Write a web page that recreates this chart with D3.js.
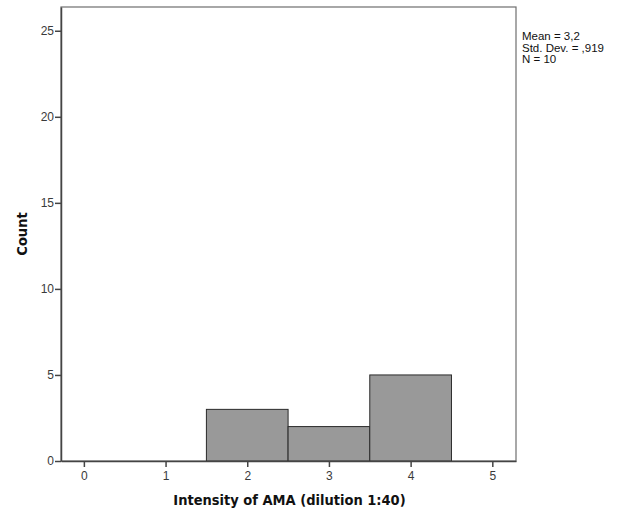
<!DOCTYPE html>
<html>
<head>
<meta charset="utf-8">
<script src="https://cdn.jsdelivr.net/npm/d3@7"></script>
<style>
  body { margin: 0; background: #fff; }
  svg { display: block; font-family: "Liberation Sans", Arial, sans-serif; }
</style>
</head>
<body>
<svg id="chart" width="617" height="515"></svg>
<script>
// histogram bins (bin centre) and counts
var binCenters = [2, 3, 4];
var counts = [3, 2, 5];
var xTicks = [0, 1, 2, 3, 4, 5];
var yTicks = [0, 5, 10, 15, 20, 25];
var stats = ["Mean = 3,2", "Std. Dev. = ,919", "N = 10"];

var svg = d3.select('#chart');
var plotLeft = 61, plotRight = 516, plotTop = 7, plotBottom = 461;

var x = d3.scaleLinear().domain([-0.28, 5.29]).range([plotLeft, plotRight]);
var y = d3.scaleLinear().domain([0, 26.38]).range([plotBottom, plotTop]);

// frame
svg.append('rect')
  .attr('x', plotLeft).attr('y', plotTop)
  .attr('width', plotRight - plotLeft).attr('height', plotBottom - plotTop)
  .attr('fill', '#fff').attr('stroke', '#6e6e6e').attr('stroke-width', 1.2);

// bars
svg.append('g').selectAll('rect')
  .data(binCenters)
  .enter().append('rect')
  .attr('x', function (d) { return x(d - 0.5); })
  .attr('width', function (d) { return x(d + 0.5) - x(d - 0.5); })
  .attr('y', function (d, i) { return y(counts[i]); })
  .attr('height', function (d, i) { return y(0) - y(counts[i]); })
  .attr('fill', '#999999')
  .attr('stroke', '#2b2b2b')
  .attr('stroke-width', 1);

// axes
var yAxis = svg.append('g')
  .attr('transform', 'translate(' + plotLeft + ',0)')
  .call(d3.axisLeft(y).tickValues(yTicks).tickFormat(d3.format('d'))
    .tickSize(6).tickPadding(1).tickSizeOuter(0));
var xAxis = svg.append('g')
  .attr('transform', 'translate(0,' + plotBottom + ')')
  .call(d3.axisBottom(x).tickValues(xTicks).tickFormat(d3.format('d'))
    .tickSize(6).tickPadding(4).tickSizeOuter(0));

[xAxis, yAxis].forEach(function (ax) {
  ax.select('.domain').attr('stroke', '#444').attr('stroke-width', 1.5);
  ax.selectAll('.tick line').attr('stroke', '#444').attr('stroke-width', 1.5);
  ax.selectAll('.tick text')
    .attr('fill', '#3a3a3a')
    .style('font-size', '12px')
    .style('font-family', '"Liberation Sans", Arial, sans-serif');
});

// axis titles
svg.append('text')
  .attr('x', (plotLeft + plotRight) / 2 + 1)
  .attr('y', 505)
  .attr('text-anchor', 'middle')
  .style('font-size', '14.5px')
  .style('font-weight', 'bold')
  .style('font-family', '"DejaVu Sans Condensed", "Liberation Sans", sans-serif')
  .attr('fill', '#111')
  .text('Intensity of AMA (dilution 1:40)');

svg.append('text')
  .attr('transform', 'translate(27,' + ((plotTop + plotBottom) / 2) + ') rotate(-90)')
  .attr('text-anchor', 'middle')
  .style('font-size', '14.5px')
  .style('font-weight', 'bold')
  .style('font-family', '"DejaVu Sans Condensed", "Liberation Sans", sans-serif')
  .attr('fill', '#111')
  .text('Count');

// stats box
svg.append('g').selectAll('text')
  .data(stats)
  .enter().append('text')
  .attr('x', 522)
  .attr('y', function (d, i) { return 40 + i * 11.5; })
  .style('font-size', '11.5px')
  .attr('fill', '#111')
  .text(function (d) { return d; });
</script>
</body>
</html>
